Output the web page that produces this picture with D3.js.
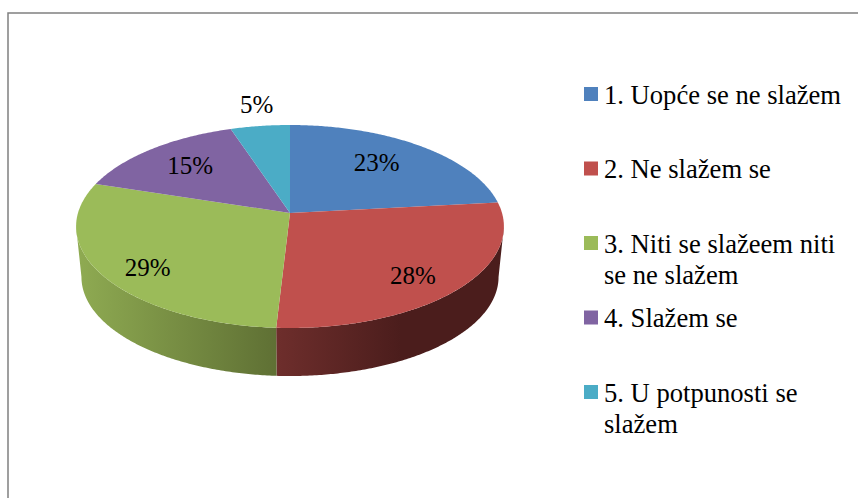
<!DOCTYPE html>
<html><head><meta charset="utf-8">
<script src="https://cdn.jsdelivr.net/npm/d3@7"></script>
<style>html,body{margin:0;padding:0;background:#fff;overflow:hidden}svg{display:block}text{font-family:"Liberation Serif",serif;fill:#000}</style>
</head><body><svg id="c" width="858" height="498"></svg>
<script>
const categories = ["1. Uopće se ne slažem","2. Ne slažem se","3. Niti se slažeem niti se ne slažem","4. Slažem se","5. U potpunosti se slažem"];
const legendLines = [["1. Uopće se ne slažem"],["2. Ne slažem se"],["3. Niti se slažeem niti","se ne slažem"],["4. Slažem se"],["5. U potpunosti se","slažem"]];
const values = [23.3,27.6,29,15,5.1];
const labels = ["23%","28%","29%","15%","5%"];
const colors = ["#4f81bd","#c0504d","#9bbb59","#8064a2","#4bacc6"];
const wallStops = [null,["#6e2e2c","#4b1d1c"],["#8fab52","#5f7034"],null,null];

const svg = d3.select("#c");
const W=858,H=498;
svg.append("path").attr("d",`M8 ${H} V13 H${W}`).attr("fill","none").attr("stroke","#808080").attr("stroke-width",1.5);

const cx=290, cy=213, a=212, b=99.7, k=0.133, depth=50.9, shrink=0.975;
function proj(t, s=1, dy=0){
  const u=Math.sin(t), v=-Math.cos(t), w=1-k*v;
  return [cx+s*a*u/w, cy+dy+s*b*v/w];
}
const pieData = d3.pie().sort(null).value(d=>d)(values);
const defs = svg.append("defs");
const line = d3.line();
function arcPts(t0,t1,s,dy){
  const n=Math.max(2,Math.ceil(Math.abs(t1-t0)/0.01));
  return d3.range(n+1).map(i=>proj(t0+(t1-t0)*i/n,s,dy));
}
const tA=Math.acos(-k), tB=2*Math.PI-tA;
pieData.forEach((d,i)=>{
  const t0=Math.max(d.startAngle,tA), t1=Math.min(d.endAngle,tB);
  if(t1<=t0||!wallStops[i]) return;
  const top=arcPts(t0,t1,1,0), bot=arcPts(t1,t0,shrink,depth);
  const xs=top.concat(bot).map(p=>p[0]);
  const g=defs.append("linearGradient").attr("id","w"+i).attr("gradientUnits","userSpaceOnUse")
    .attr("x1",d3.min(xs)).attr("x2",i==1?d3.min(xs)+125:d3.max(xs)).attr("y1",0).attr("y2",0);
  g.append("stop").attr("offset",0).attr("stop-color",wallStops[i][0]);
  g.append("stop").attr("offset",1).attr("stop-color",wallStops[i][1]);
  svg.append("path").attr("d",line(top.concat(bot))+"Z").attr("fill",`url(#w${i})`);
});
pieData.forEach((d,i)=>{
  const pts=[proj(0,0,0)].concat(arcPts(d.startAngle,d.endAngle,1,0));
  svg.append("path").attr("d",line(pts)+"Z").attr("fill",colors[i]);
});
const labelRadius=[0.66,0.66,0.66,0.66,1.13];
const labelShift=[[-1,-4],[15,15],[-21,16],[-6,-3],[0,-11]];
pieData.forEach((d,i)=>{
  const m=(d.startAngle+d.endAngle)/2;
  const u=Math.sin(m)*labelRadius[i], v=-Math.cos(m)*labelRadius[i], w=1-k*v;
  svg.append("text").attr("x",cx+a*u/w+labelShift[i][0]).attr("y",cy+b*v/w+8+labelShift[i][1]).attr("text-anchor","middle").attr("font-size",25).text(labels[i]);
});
const legendY=d3.scalePoint().domain(categories).range([94,392]);
const legendX=584, fs=26.6, lh=31;
categories.forEach((c,i)=>{
  const y=legendY(c);
  svg.append("rect").attr("x",legendX).attr("y",y-7).attr("width",14).attr("height",14).attr("fill",colors[i]);
  const t=svg.append("text").attr("x",604).attr("y",y+9.5).attr("font-size",fs);
  legendLines[i].forEach((l,j)=>t.append("tspan").attr("x",604).attr("dy",j?lh:0).text(l));
});
</script></body></html>
